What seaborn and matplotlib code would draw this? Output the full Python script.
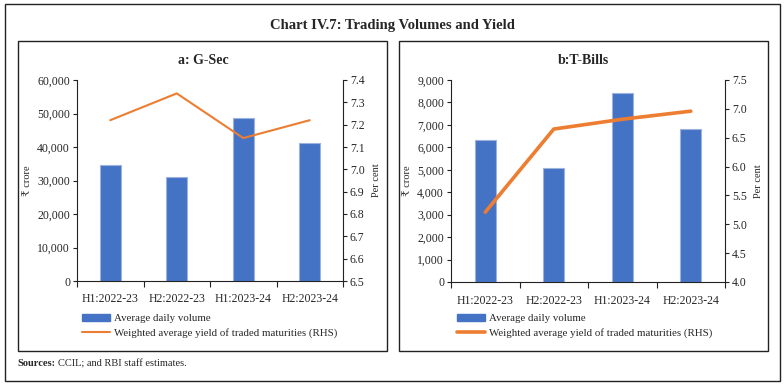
import numpy as np
import pandas as pd
import matplotlib
matplotlib.use("Agg")
import matplotlib.pyplot as plt
import seaborn as sns
from matplotlib.patches import Rectangle, Patch
from matplotlib.lines import Line2D
from matplotlib.ticker import FuncFormatter

# Dados
periods = ['H1:2022-23', 'H2:2022-23', 'H1:2023-24', 'H2:2023-24']
gsec_volume = [34600, 31100, 48600, 41100]
gsec_yield = [7.22, 7.34, 7.14, 7.22]
tbill_volume = [6330, 5100, 8410, 6820]
tbill_yield = [5.21, 6.65, 6.82, 6.96]

sns.set_theme(style="white")
plt.rcParams['font.family'] = ['Liberation Serif', 'DejaVu Serif', 'DejaVu Sans']

BLUE = '#4472C4'
ORANGE = '#ED7D31'

fig = plt.figure(figsize=(7.84, 3.86), dpi=100)
W, H = 784, 386


def fig_rect(x0, y0, x1, y1):
    # caixa em pixels (origem no topo) -> coordenadas da figura
    return Rectangle((x0 / W, 1 - y1 / H), (x1 - x0) / W, (y1 - y0) / H,
                     transform=fig.transFigure, fill=False,
                     edgecolor='#222222', linewidth=1.0)


fig.patches.append(fig_rect(5, 4, 780, 381))
fig.patches.append(fig_rect(18, 41, 387, 351))
fig.patches.append(fig_rect(399, 41, 768, 351))

fig.text(0.5, 1 - 25 / H, 'Chart IV.7: Trading Volumes and Yield',
         ha='center', va='center', fontsize=10.5, fontweight='bold')
fig.text(17 / W, 1 - 364 / H, 'Sources:', ha='left', va='center',
         fontsize=7.5, fontweight='bold')
fig.text(58 / W, 1 - 364 / H, 'CCIL; and RBI staff estimates.', ha='left',
         va='center', fontsize=7.5)

thousands = FuncFormatter(lambda v, p: f'{int(v):,}')


def panel(rect, title, volume, yld, vmax, vstep, ylim, ystep, lw, leg_x, title_x):
    ax = fig.add_axes(rect)
    df = pd.DataFrame({'period': periods, 'volume': volume,
                       'yield': yld, 'pos': np.arange(len(periods))})
    sns.barplot(data=df, x='period', y='volume', color=BLUE, width=0.31,
                edgecolor='#9DB3DE', linewidth=0.8, saturation=1, ax=ax)
    ax.set_xlim(-0.5, 3.5)
    ax.set_ylim(0, vmax)
    ax.set_yticks(np.arange(0, vmax + 1, vstep))
    ax.yaxis.set_major_formatter(thousands)
    ax.set_xlabel('')
    ax.set_ylabel('₹ crore', fontsize=7.5, labelpad=4)
    ax.set_xticks(np.arange(4))
    ax.set_xticklabels(periods)
    ax.set_xticks(np.arange(-0.5, 4, 1), minor=True)
    ax.tick_params(axis='x', which='major', length=0, pad=9, labelsize=8.5)
    ax.tick_params(axis='x', which='minor', length=4, width=0.8,
                   direction='out', color='#222222', bottom=True)
    ax.tick_params(axis='y', length=3, width=0.8, direction='out',
                   labelsize=8.5, pad=2, left=True, color='#222222')

    ax2 = ax.twinx()
    sns.lineplot(data=df, x='pos', y='yield', color=ORANGE, linewidth=lw, ax=ax2)
    ax2.set_ylim(*ylim)
    ax2.set_yticks(np.round(np.arange(ylim[0], ylim[1] + 1e-9, ystep), 2))
    ax2.yaxis.set_major_formatter(FuncFormatter(lambda v, p: f'{v:.1f}'))
    ax2.set_ylabel('Per cent', fontsize=7.5, labelpad=5)
    ax2.tick_params(axis='y', length=3, width=0.8, direction='out',
                    labelsize=8.5, pad=2, right=True, color='#222222')
    ax2.set_xlim(-0.5, 3.5)

    for a in (ax, ax2):
        a.spines['top'].set_visible(False)
        for s in ('left', 'right', 'bottom'):
            a.spines[s].set_color('#222222')
            a.spines[s].set_linewidth(0.8)
    ax.spines['right'].set_visible(False)
    ax2.spines['left'].set_visible(False)
    ax2.spines['bottom'].set_visible(False)
    ax.grid(False)
    ax2.grid(False)

    fig.text(title_x / W, 1 - 60 / H, title, ha='center', va='center',
             fontsize=10, fontweight='bold')

    handles = [Patch(facecolor=BLUE, edgecolor=BLUE),
               Line2D([0], [0], color=ORANGE, linewidth=lw)]
    labels = ['Average daily volume',
              'Weighted average yield of traded maturities (RHS)']
    ax2.legend(handles, labels, loc='upper left', frameon=False,
               bbox_to_anchor=(leg_x / W, 1 - 314 / H),
               bbox_transform=fig.transFigure, fontsize=7.8,
               handlelength=2.6, handleheight=0.6, handletextpad=0.35,
               labelspacing=0.45, borderaxespad=0, borderpad=0)
    return ax, ax2


panel([77 / W, 1 - 281 / H, 266 / W, 201 / H], 'a: G-Sec',
      gsec_volume, gsec_yield, 60000, 10000, (6.5, 7.4), 0.1, 1.5, 82, 203)
panel([451 / W, 1 - 282 / H, 274 / W, 202 / H], 'b:T-Bills',
      tbill_volume, tbill_yield, 9000, 1000, (4.0, 7.5), 0.5, 2.6, 457, 583)

fig.savefig('out.png', dpi=100)
